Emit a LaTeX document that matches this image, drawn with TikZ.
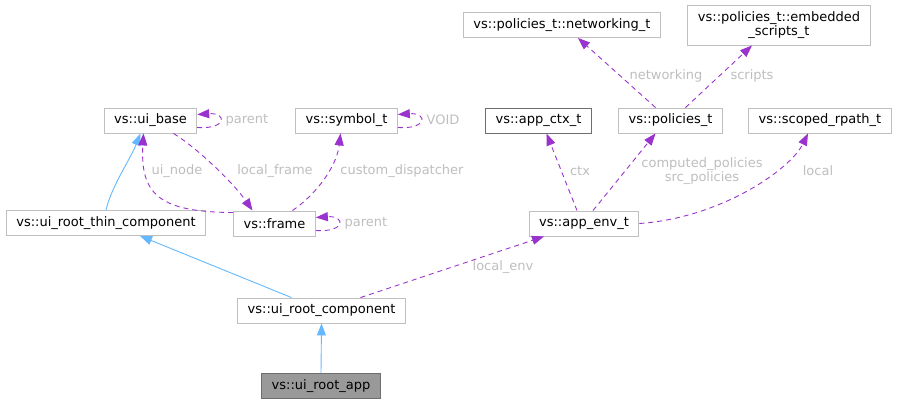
\documentclass[tikz,border=0pt]{standalone}
\usepackage{fontspec}
\setmainfont{DejaVu Sans}
\usepackage{xcolor}
\usepackage{tikz}
\usetikzlibrary{arrows.meta, calc}
\definecolor{boxgray}{RGB}{191,191,191}
\definecolor{boxdark}{RGB}{110,110,110}
\definecolor{curfill}{RGB}{153,153,153}
\definecolor{usepurple}{RGB}{154,50,205}
\definecolor{inhblue}{RGB}{99,184,255}
\definecolor{labelgray}{RGB}{190,190,190}

\begin{document}
\begin{tikzpicture}[x=1pt, y=-1pt,
    klass/.style={draw=boxgray, line width=0.9pt, fill=white, minimum height=25pt, inner xsep=10pt, inner ysep=2pt, align=center, font=\fontsize{13}{14.5}\selectfont},
    klassdark/.style={klass, draw=boxdark},
    klasscur/.style={klass, draw=boxdark, fill=curfill},
    inherit/.style={-{Triangle[length=12pt, width=9pt]}, line width=0.9pt, inhblue},
    uses/.style={-{Triangle[length=12pt, width=9pt]}, line width=0.9pt, usepurple, dash pattern=on 5pt off 4pt},
    edgelabel/.style={text=labelgray, align=center, inner sep=1pt, font=\fontsize{13}{14.5}\selectfont}
]
\useasboundingbox (0,0) rectangle (897,404);

% classes
\node[klass] (networking) at (562,25) {vs::policies\_t::networking\_t};
\node[klass, minimum height=40pt] (embedded) at (779,25) {vs::policies\_t::embedded\\\_scripts\_t};
\node[klass] (uibase) at (150.5,120.5) {vs::ui\_base};
\node[klass] (symbol) at (346.5,120.5) {vs::symbol\_t};
\node[klassdark] (appctx) at (538.5,120.5) {vs::app\_ctx\_t};
\node[klass] (policies) at (670.5,120.5) {vs::policies\_t};
\node[klass] (scoped) at (820,120.5) {vs::scoped\_rpath\_t};
\node[klass] (thin) at (106,223) {vs::ui\_root\_thin\_component};
\node[klass] (frame) at (274.5,223.5) {vs::frame};
\node[klass] (appenv) at (584,223.5) {vs::app\_env\_t};
\node[klass] (rootcomp) at (321.5,310.5) {vs::ui\_root\_component};
\node[klasscur] (rootapp) at (321,386) {vs::ui\_root\_app};

% inheritance
\draw[inherit] (thin.north) .. controls (112,185) and (130,160) .. ([xshift=-10]uibase.south);
\draw[inherit] ([xshift=-30]rootcomp.north) -- ([xshift=34]thin.south);
\draw[inherit] (rootapp.north) -- (rootcomp.south);

% members
\draw[uses] ([yshift=-2]frame.north west) .. controls (160,212) and (140,195) .. ([xshift=-7]uibase.south);
\draw[uses] ([xshift=23]uibase.south) .. controls (200,150) and (235,185) .. ([xshift=-22]frame.north);
\draw[uses] ([xshift=18]frame.north) .. controls (318,193) and (337,165) .. ([xshift=-6]symbol.south);
\draw[uses] ($(uibase.east)+(0,7)$) .. controls +(30,2) and +(30,-2) .. ($(uibase.east)+(0,-6)$);
\draw[uses] ($(symbol.east)+(0,7)$) .. controls +(30,2) and +(30,-2) .. ($(symbol.east)+(0,-6)$);
\draw[uses] ($(frame.east)+(0,7)$) .. controls +(30,2) and +(30,-2) .. ($(frame.east)+(0,-6)$);
\draw[uses] ([xshift=-7]appenv.north) -- ([xshift=8]appctx.south);
\draw[uses] ([xshift=9]appenv.north) -- ([xshift=-15]policies.south);
\draw[uses] (appenv.east) .. controls (720,218) and (790,170) .. ([xshift=-12]scoped.south);
\draw[uses] ([xshift=-15]policies.north) -- ([xshift=16]networking.south);
\draw[uses] ([xshift=15]policies.north) -- ([xshift=-27]embedded.south);
\draw[uses] ([xshift=39]rootcomp.north) -- ([xshift=-40]appenv.south);

% member names
\node[edgelabel] (lparentbase) at (247,120) {parent};
\node[edgelabel] (lvoid) at (443,120) {VOID};
\node[edgelabel] (luinode) at (177,171) {ui\_node};
\node[edgelabel] (llocalframe) at (275,171) {local\_frame};
\node[edgelabel] (lcustom) at (402,171) {custom\_dispatcher};
\node[edgelabel] (lparentframe) at (366,223) {parent};
\node[edgelabel] (lctx) at (580,171) {ctx};
\node[edgelabel] (lpolicies) at (702,171) {computed\_policies\\src\_policies};
\node[edgelabel] (llocal) at (818,171) {local};
\node[edgelabel] (lnetworking) at (666,76) {networking};
\node[edgelabel] (lscripts) at (752,76) {scripts};
\node[edgelabel] (llocalenv) at (503,267) {local\_env};

\end{tikzpicture}
\end{document}
